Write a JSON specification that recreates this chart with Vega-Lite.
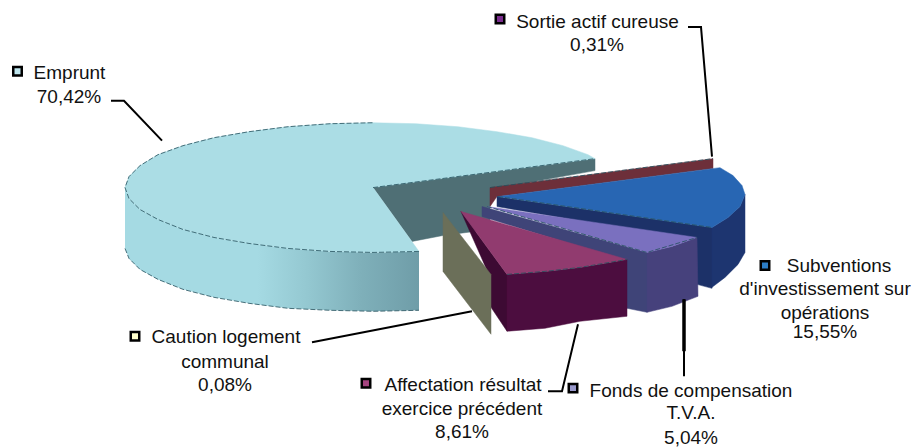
{"$schema":"https://vega.github.io/schema/vega-lite/v6.json","width":916,"height":448,"autosize":{"type":"fit","contains":"padding"},"padding":0,"background":"white","view":{"stroke":null},
"resolve":{"scale":{"fill":"independent","stroke":"independent"}},
"datasets":{
"side":[{"part":"side","order":1,"x":419,"y":252},{"part":"side","order":2,"x":373,"y":253},{"part":"side","order":3,"x":330,"y":252},{"part":"side","order":4,"x":288,"y":249},{"part":"side","order":5,"x":249,"y":244},{"part":"side","order":6,"x":214,"y":238},{"part":"side","order":7,"x":183,"y":230},{"part":"side","order":8,"x":158,"y":220},{"part":"side","order":9,"x":140,"y":210},{"part":"side","order":10,"x":129,"y":199},{"part":"side","order":11,"x":125,"y":188},{"part":"side","order":12,"x":125,"y":249},{"part":"side","order":13,"x":129,"y":259},{"part":"side","order":14,"x":140,"y":270},{"part":"side","order":15,"x":158,"y":280},{"part":"side","order":16,"x":183,"y":290},{"part":"side","order":17,"x":214,"y":298},{"part":"side","order":18,"x":249,"y":304},{"part":"side","order":19,"x":288,"y":309},{"part":"side","order":20,"x":330,"y":311},{"part":"side","order":21,"x":373,"y":312},{"part":"side","order":22,"x":419,"y":311}],
"shapes":[
{"part":"wall","order":1,"x":373,"y":188},{"part":"wall","order":2,"x":595,"y":159},{"part":"wall","order":3,"x":595,"y":171},{"part":"wall","order":4,"x":490,"y":190},{"part":"wall","order":5,"x":490,"y":230},{"part":"wall","order":6,"x":443,"y":236},{"part":"wall","order":7,"x":412,"y":242},
{"part":"top","order":1,"x":373,"y":188},{"part":"top","order":2,"x":419,"y":252},{"part":"top","order":3,"x":373,"y":253},{"part":"top","order":4,"x":330,"y":252},{"part":"top","order":5,"x":288,"y":249},{"part":"top","order":6,"x":249,"y":244},{"part":"top","order":7,"x":214,"y":238},{"part":"top","order":8,"x":183,"y":230},{"part":"top","order":9,"x":158,"y":220},{"part":"top","order":10,"x":140,"y":210},{"part":"top","order":11,"x":129,"y":199},{"part":"top","order":12,"x":125,"y":188},{"part":"top","order":13,"x":129,"y":177},{"part":"top","order":14,"x":140,"y":166},{"part":"top","order":15,"x":158,"y":155},{"part":"top","order":16,"x":183,"y":146},{"part":"top","order":17,"x":214,"y":138},{"part":"top","order":18,"x":249,"y":132},{"part":"top","order":19,"x":288,"y":127},{"part":"top","order":20,"x":330,"y":124},{"part":"top","order":21,"x":373,"y":123},{"part":"top","order":22,"x":416,"y":124},{"part":"top","order":23,"x":458,"y":127},{"part":"top","order":24,"x":497,"y":132},{"part":"top","order":25,"x":532,"y":138},{"part":"top","order":26,"x":563,"y":146},{"part":"top","order":27,"x":588,"y":155},{"part":"top","order":28,"x":595,"y":159},
{"part":"brown","order":1,"x":490,"y":188},{"part":"brown","order":2,"x":713,"y":159},{"part":"brown","order":3,"x":713,"y":169},{"part":"brown","order":4,"x":497,"y":197},{"part":"brown","order":5,"x":490,"y":207},
{"part":"navyWall","order":1,"x":497,"y":197},{"part":"navyWall","order":2,"x":712,"y":228},{"part":"navyWall","order":3,"x":712,"y":289},{"part":"navyWall","order":4,"x":697,"y":285},{"part":"navyWall","order":5,"x":690,"y":240},{"part":"navyWall","order":6,"x":497,"y":207},
{"part":"navyOuter","order":1,"x":712,"y":228},{"part":"navyOuter","order":2,"x":728,"y":218},{"part":"navyOuter","order":3,"x":740,"y":207},{"part":"navyOuter","order":4,"x":745,"y":195},{"part":"navyOuter","order":5,"x":745,"y":253},{"part":"navyOuter","order":6,"x":738,"y":265},{"part":"navyOuter","order":7,"x":725,"y":278},{"part":"navyOuter","order":8,"x":712,"y":288},
{"part":"blue","order":1,"x":498,"y":197},{"part":"blue","order":2,"x":720,"y":168},{"part":"blue","order":3,"x":733,"y":176},{"part":"blue","order":4,"x":742,"y":186},{"part":"blue","order":5,"x":745,"y":195},{"part":"blue","order":6,"x":740,"y":207},{"part":"blue","order":7,"x":728,"y":218},{"part":"blue","order":8,"x":712,"y":228},
{"part":"periWall","order":1,"x":482,"y":207},{"part":"periWall","order":2,"x":647,"y":253},{"part":"periWall","order":3,"x":647,"y":313},{"part":"periWall","order":4,"x":627,"y":309},{"part":"periWall","order":5,"x":627,"y":262},{"part":"periWall","order":6,"x":482,"y":217},
{"part":"periOuter","order":1,"x":647,"y":253},{"part":"periOuter","order":2,"x":672,"y":247},{"part":"periOuter","order":3,"x":697,"y":238},{"part":"periOuter","order":4,"x":698,"y":297},{"part":"periOuter","order":5,"x":672,"y":307},{"part":"periOuter","order":6,"x":647,"y":313},
{"part":"peri","order":1,"x":487,"y":207},{"part":"peri","order":2,"x":697,"y":238},{"part":"peri","order":3,"x":672,"y":247},{"part":"peri","order":4,"x":647,"y":253},
{"part":"maroonLeft","order":1,"x":461,"y":212},{"part":"maroonLeft","order":2,"x":507,"y":275},{"part":"maroonLeft","order":3,"x":507,"y":332},{"part":"maroonLeft","order":4,"x":491,"y":308},{"part":"maroonLeft","order":5,"x":491,"y":280},
{"part":"maroonFront","order":1,"x":507,"y":275},{"part":"maroonFront","order":2,"x":545,"y":272},{"part":"maroonFront","order":3,"x":580,"y":268},{"part":"maroonFront","order":4,"x":627,"y":260},{"part":"maroonFront","order":5,"x":627,"y":317},{"part":"maroonFront","order":6,"x":580,"y":322},{"part":"maroonFront","order":7,"x":545,"y":329},{"part":"maroonFront","order":8,"x":507,"y":332},
{"part":"maroon","order":1,"x":461,"y":212},{"part":"maroon","order":2,"x":627,"y":260},{"part":"maroon","order":3,"x":580,"y":268},{"part":"maroon","order":4,"x":545,"y":272},{"part":"maroon","order":5,"x":507,"y":275},
{"part":"olive","order":1,"x":443,"y":213},{"part":"olive","order":2,"x":491,"y":275},{"part":"olive","order":3,"x":491,"y":335},{"part":"olive","order":4,"x":443,"y":272}
],
"edges":[
{"edge":"a","order":1,"x":419,"y":252},{"edge":"a","order":2,"x":373,"y":253},{"edge":"a","order":3,"x":330,"y":252},{"edge":"a","order":4,"x":288,"y":249},{"edge":"a","order":5,"x":249,"y":244},{"edge":"a","order":6,"x":214,"y":238},{"edge":"a","order":7,"x":183,"y":230},{"edge":"a","order":8,"x":158,"y":220},{"edge":"a","order":9,"x":140,"y":210},{"edge":"a","order":10,"x":129,"y":199},{"edge":"a","order":11,"x":125,"y":188},{"edge":"a","order":12,"x":129,"y":177},{"edge":"a","order":13,"x":140,"y":166},{"edge":"a","order":14,"x":158,"y":155},{"edge":"a","order":15,"x":183,"y":146},{"edge":"a","order":16,"x":214,"y":138},{"edge":"a","order":17,"x":249,"y":132},{"edge":"a","order":18,"x":288,"y":127},{"edge":"a","order":19,"x":330,"y":124},{"edge":"a","order":20,"x":373,"y":123},
{"edge":"b","order":1,"x":125,"y":249},{"edge":"b","order":2,"x":129,"y":259},{"edge":"b","order":3,"x":140,"y":270},{"edge":"b","order":4,"x":158,"y":280},{"edge":"b","order":5,"x":183,"y":290},{"edge":"b","order":6,"x":214,"y":298},{"edge":"b","order":7,"x":249,"y":304},{"edge":"b","order":8,"x":288,"y":309},{"edge":"b","order":9,"x":330,"y":311},{"edge":"b","order":10,"x":373,"y":312},{"edge":"b","order":11,"x":419,"y":311},
{"edge":"c","order":1,"x":373,"y":188},{"edge":"c","order":2,"x":595,"y":159},
{"edge":"d","order":1,"x":490,"y":188},{"edge":"d","order":2,"x":713,"y":159},
{"edge":"e","order":1,"x":498,"y":197},{"edge":"e","order":2,"x":712,"y":228},
{"edge":"f","order":1,"x":487,"y":207},{"edge":"f","order":2,"x":647,"y":253},{"edge":"f","order":3,"x":697,"y":238},
{"edge":"g","order":1,"x":507,"y":275},{"edge":"g","order":2,"x":545,"y":272},{"edge":"g","order":3,"x":580,"y":268},{"edge":"g","order":4,"x":627,"y":260}
],
"leaders":[
{"name":"Emprunt","order":1,"x":111,"y":101},{"name":"Emprunt","order":2,"x":124,"y":101},{"name":"Emprunt","order":3,"x":162,"y":141},
{"name":"Sortie","order":1,"x":688,"y":27},{"name":"Sortie","order":2,"x":701,"y":27},{"name":"Sortie","order":3,"x":712,"y":157},
{"name":"Caution","order":1,"x":312,"y":343},{"name":"Caution","order":2,"x":472,"y":312},
{"name":"Affectation","order":1,"x":548,"y":392},{"name":"Affectation","order":2,"x":562,"y":392},{"name":"Affectation","order":3,"x":578,"y":325},
{"name":"Fonds","order":1,"x":684,"y":300},{"name":"Fonds","order":2,"x":684,"y":377}
],
"thick":[{"name":"Fonds","order":1,"x":684,"y":300},{"name":"Fonds","order":2,"x":684,"y":352}],
"markers":[
{"label":"Emprunt","percent":70.42,"x":17.5,"y":71.5},
{"label":"Sortie actif cureuse","percent":0.31,"x":500,"y":19},
{"label":"Caution logement communal","percent":0.08,"x":135,"y":337},
{"label":"Affectation résultat exercice précédent","percent":8.61,"x":366,"y":384},
{"label":"Fonds de compensation T.V.A.","percent":5.04,"x":573,"y":389},
{"label":"Subventions d'investissement sur opérations","percent":15.55,"x":765,"y":266}
],
"texts":[
{"text":"Emprunt","x":69.5,"y":73},{"text":"70,42%","x":69,"y":97},
{"text":"Sortie actif cureuse","x":597.5,"y":22},{"text":"0,31%","x":597,"y":45},
{"text":"Caution logement","x":226,"y":338},{"text":"communal","x":225,"y":363},{"text":"0,08%","x":225,"y":386},
{"text":"Affectation résultat","x":463,"y":386},{"text":"exercice précédent","x":462,"y":410},{"text":"8,61%","x":462,"y":433},
{"text":"Fonds de compensation","x":691,"y":392},{"text":"T.V.A.","x":691,"y":414},{"text":"5,04%","x":691,"y":439},
{"text":"Subventions","x":839,"y":267},{"text":"d'investissement sur","x":825,"y":290},{"text":"opérations","x":825,"y":314},{"text":"15,55%","x":825,"y":333}
]},
"encoding":{
"x":{"field":"x","type":"quantitative","scale":{"domain":[0,916],"nice":false,"zero":false},"axis":null},
"y":{"field":"y","type":"quantitative","scale":{"domain":[448,0],"nice":false,"zero":false},"axis":null}},
"layer":[
{"data":{"name":"side"},"mark":{"type":"line","interpolate":"linear-closed","strokeWidth":0,"fill":{"gradient":"linear","x1":0,"x2":1,"y1":0,"y2":0,"stops":[{"offset":0,"color":"#a5dae3"},{"offset":0.45,"color":"#a5dae3"},{"offset":0.62,"color":"#94c8d1"},{"offset":0.8,"color":"#7fb0ba"},{"offset":1,"color":"#6f9da8"}]}},"encoding":{"order":{"field":"order"}}},
{"data":{"name":"shapes"},"mark":{"type":"line","interpolate":"linear-closed","strokeWidth":0.5},"encoding":{"order":{"field":"order"},"detail":{"field":"part"},
"fill":{"field":"part","legend":null,"scale":{"domain":["wall","top","brown","navyWall","navyOuter","blue","periWall","periOuter","peri","maroonLeft","maroonFront","maroon","olive"],"range":["#4f6f75","#abdde5","#6d2f3a","#1c3168","#1d3570","#2866b3","#3f4478","#46417c","#7a70bf","#3d0a33","#4c0d3f","#913b6f","#6b6f59"]}},
"stroke":{"field":"part","legend":null,"scale":{"domain":["wall","top","brown","navyWall","navyOuter","blue","periWall","periOuter","peri","maroonLeft","maroonFront","maroon","olive"],"range":["#4f6f75","#abdde5","#6d2f3a","#1c3168","#1d3570","#2866b3","#3f4478","#46417c","#7a70bf","#3d0a33","#4c0d3f","#913b6f","#6b6f59"]}}}},
{"data":{"name":"edges"},"mark":{"type":"line","stroke":"#23505c","strokeWidth":1,"strokeDash":[5,2],"opacity":0.8},"encoding":{"order":{"field":"order"},"detail":{"field":"edge"}}},
{"data":{"name":"leaders"},"mark":{"type":"line","stroke":"#000000","strokeWidth":2},"encoding":{"order":{"field":"order"},"detail":{"field":"name"}}},
{"data":{"name":"thick"},"mark":{"type":"line","stroke":"#000000","strokeWidth":3.5},"encoding":{"order":{"field":"order"},"detail":{"field":"name"}}},
{"data":{"name":"markers"},"mark":{"type":"square","size":72,"opacity":1,"strokeWidth":2.5,"stroke":"#000000"},"encoding":{"fill":{"field":"label","legend":null,"scale":{"domain":["Emprunt","Sortie actif cureuse","Caution logement communal","Affectation résultat exercice précédent","Fonds de compensation T.V.A.","Subventions d'investissement sur opérations"],"range":["#bfe6ee","#7b2d8e","#ffffcc","#a5447f","#9999cc","#2c7cc4"]}}}},
{"data":{"name":"texts"},"mark":{"type":"text","font":"Liberation Sans","fontSize":19,"align":"center","baseline":"middle","color":"#111111"},"encoding":{"text":{"field":"text"}}}
]}
